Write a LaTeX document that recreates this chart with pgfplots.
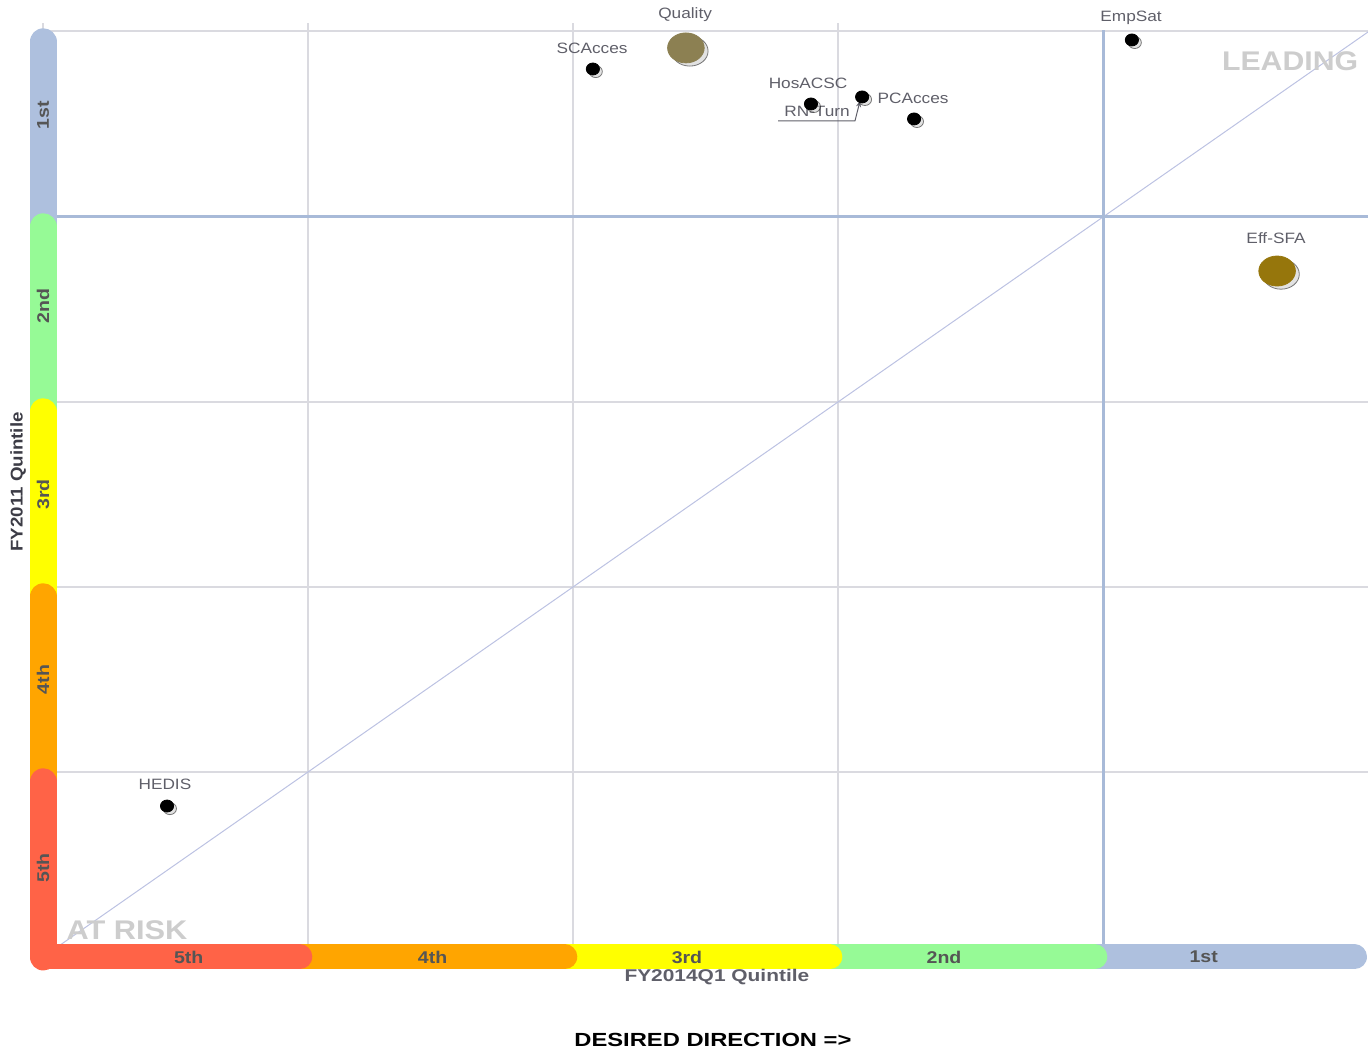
\documentclass[border=0pt]{standalone}
\usepackage{pgfplots}
\pgfplotsset{compat=1.18}
\usepackage{fontspec}
\setmainfont{Liberation Sans}
\usetikzlibrary{arrows.meta}
\definecolor{bandblue}{RGB}{174,192,222}
\definecolor{bandgreen}{RGB}{150,250,150}
\definecolor{bandyellow}{RGB}{255,255,0}
\definecolor{bandorange}{RGB}{255,165,0}
\definecolor{bandred}{RGB}{255,99,71}
\definecolor{gridc}{RGB}{218,218,224}
\definecolor{quadc}{RGB}{168,186,216}
\definecolor{diagc}{RGB}{188,194,226}
\definecolor{labc}{RGB}{95,95,105}
\definecolor{bandtxt}{RGB}{85,85,85}
\definecolor{bigtxt}{RGB}{205,205,205}
\definecolor{qualc}{RGB}{140,128,82}
\definecolor{effc}{RGB}{150,118,12}
\begin{document}
\begin{tikzpicture}
\begin{axis}[
  scale only axis, width=662.5pt, height=462.5pt,
  xmin=0, xmax=5, ymin=0, ymax=5,
  axis lines=none, clip=false,
  /pgf/number format/assume math mode=true,
]
% grid
\draw[gridc, line width=0.7pt] (axis cs:1,0) -- (axis cs:1,5.05);
\draw[gridc, line width=0.7pt] (axis cs:2,0) -- (axis cs:2,5.05);
\draw[gridc, line width=0.7pt] (axis cs:3,0) -- (axis cs:3,5.05);
\draw[gridc, line width=0.7pt] (axis cs:0,0) -- (axis cs:0,5.05);
\draw[gridc, line width=0.7pt] (axis cs:0,1) -- (axis cs:5,1);
\draw[gridc, line width=0.7pt] (axis cs:0,2) -- (axis cs:5,2);
\draw[gridc, line width=0.7pt] (axis cs:0,3) -- (axis cs:5,3);
\draw[gridc, line width=0.7pt] (axis cs:0,5.005) -- (axis cs:5,5.005);
% diagonal
\draw[diagc, line width=0.5pt] (axis cs:0,0) -- (axis cs:5,5);
% quadrant lines
\draw[quadc, line width=1.5pt] (axis cs:4,0) -- (axis cs:4,5.01);
\draw[quadc, line width=1.5pt] (axis cs:0,4) -- (axis cs:5,4);
% left band
\draw[bandblue, line width=13.5pt, line cap=round] (axis cs:0,3.947) -- (axis cs:0,4.947);
\draw[bandgreen, line width=13.5pt, line cap=round] (axis cs:0,2.947) -- (axis cs:0,3.947);
\draw[bandyellow, line width=13.5pt, line cap=round] (axis cs:0,1.947) -- (axis cs:0,2.947);
\draw[bandorange, line width=13.5pt, line cap=round] (axis cs:0,0.947) -- (axis cs:0,1.947);
\draw[bandred, line width=13.5pt, line cap=round] (axis cs:0,0) -- (axis cs:0,0.947);
% bottom band
\draw[bandblue, line width=12.5pt, line cap=round] (axis cs:3.969,0) -- (axis cs:4.949,0);
\draw[bandgreen, line width=12.5pt, line cap=round] (axis cs:2.969,0) -- (axis cs:3.969,0);
\draw[bandyellow, line width=12.5pt, line cap=round] (axis cs:1.969,0) -- (axis cs:2.969,0);
\draw[bandorange, line width=12.5pt, line cap=round] (axis cs:0.969,0) -- (axis cs:1.969,0);
\draw[bandred, line width=12.5pt, line cap=round] (axis cs:0,0) -- (axis cs:0.969,0);
% band labels
\begin{scope}[every node/.style={font=\fontsize{8.5}{10}\selectfont\bfseries, text=bandtxt}]
\node[rotate=90, xscale=1.15] at (axis cs:0,4.55) {1st};
\node[rotate=90, xscale=1.15] at (axis cs:0,3.52) {2nd};
\node[rotate=90, xscale=1.15] at (axis cs:0,2.50) {3rd};
\node[rotate=90, xscale=1.15] at (axis cs:0,1.50) {4th};
\node[rotate=90, xscale=1.15] at (axis cs:0,0.48) {5th};
\node[xscale=1.15] at (axis cs:0.55,0) {5th};
\node[xscale=1.15] at (axis cs:1.47,0) {4th};
\node[xscale=1.15] at (axis cs:2.43,0) {3rd};
\node[xscale=1.15] at (axis cs:3.40,0) {2nd};
\node[xscale=1.15] at (axis cs:4.38,0) {1st};
\end{scope}
% big labels
\node[font=\fontsize{13.5}{15}\selectfont\bfseries, text=bigtxt, xscale=1.12] at (axis cs:4.706,4.843) {LEADING};
\node[font=\fontsize{13.5}{15}\selectfont\bfseries, text=bigtxt, xscale=1.14] at (axis cs:0.317,0.146) {AT RISK};
% axis titles
\node[font=\fontsize{8.5}{10}\selectfont\bfseries, text=labc, xscale=1.23] at (axis cs:2.543,-0.108) {FY2014Q1 Quintile};
\node[font=\fontsize{8.5}{10}\selectfont\bfseries, text={rgb,255:red,60;green,60;blue,70}, rotate=90, xscale=1.1] at (axis cs:-0.094,2.568) {FY2011 Quintile};
\node[font=\fontsize{9.5}{11}\selectfont\bfseries, text=black, xscale=1.25] at (axis cs:2.528,-0.449) {DESIRED DIRECTION =>};
% shadows
\addplot[only marks, mark=*, mark size=3pt, mark options={xscale=1.1, fill=gray!45, draw=none, xshift=1.3pt, yshift=-1.3pt, opacity=0.5}] coordinates {
(2.075,4.800) (2.898,4.611) (3.091,4.649) (3.287,4.530) (4.109,4.957) (0.468,0.816)};
\addplot[only marks, mark=*, mark size=7.5pt, mark options={xscale=1.22, fill=gray!45, draw=none, xshift=1.6pt, yshift=-1.6pt, opacity=0.5}] coordinates {
(2.426,4.914) (4.657,3.708)};
% small points
\addplot[only marks, mark=*, mark size=3pt, mark options={xscale=1.1, fill=black, draw=black}] coordinates {
(2.075,4.800) (2.898,4.611) (3.091,4.649) (3.287,4.530) (4.109,4.957) (0.468,0.816)};
% bubbles
\addplot[only marks, mark=*, mark size=7.5pt, mark options={xscale=1.22, fill=qualc, draw=qualc}] coordinates {(2.426,4.914)};
\addplot[only marks, mark=*, mark size=7.5pt, mark options={xscale=1.22, fill=effc, draw=effc}] coordinates {(4.657,3.708)};
% labels
\begin{scope}[every node/.style={font=\fontsize{7.5}{9}\selectfont, text=labc, xscale=1.15}]
\node at (axis cs:2.423,5.092) {Quality};
\node at (axis cs:2.072,4.914) {SCAcces};
\node at (axis cs:2.887,4.724) {HosACSC};
\node at (axis cs:2.921,4.568) {RN-Turn};
\node at (axis cs:3.283,4.643) {PCAcces};
\node at (axis cs:4.106,5.076) {EmpSat};
\node at (axis cs:4.653,3.886) {Eff-SFA};
\node at (axis cs:0.460,0.935) {HEDIS};
\end{scope}
\draw[labc, line width=0.5pt, -{Stealth[length=3pt,width=2.5pt]}] (axis cs:2.774,4.519) -- (axis cs:3.064,4.519) -- (axis cs:3.083,4.627);
\coordinate (bl) at (axis cs:-0.1623,-0.508);
\coordinate (tr) at (axis cs:5.0,5.173);
\end{axis}
\pgfresetboundingbox
\path[use as bounding box] (bl) rectangle (tr);
\end{tikzpicture}
\end{document}
